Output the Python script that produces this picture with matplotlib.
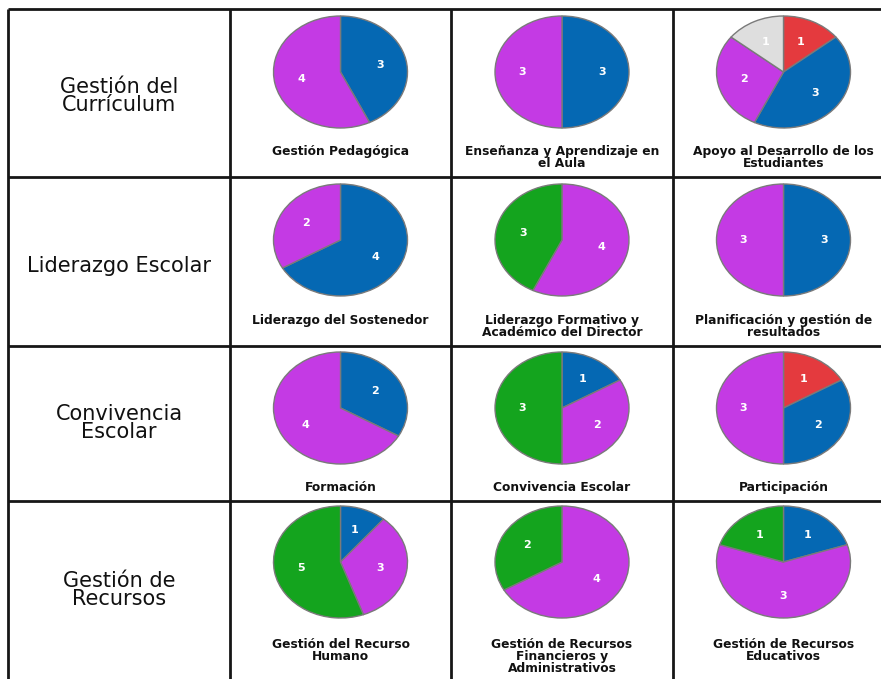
import matplotlib.pyplot as plt

#Data: counts per level (red, blue, magenta, green, grey)#
row_titles = ['Gestión del\nCurrículum', 'Liderazgo Escolar', 'Convivencia\nEscolar', 'Gestión de\nRecursos']
pie_titles = [
    ['Gestión Pedagógica', 'Enseñanza y Aprendizaje en\nel Aula', 'Apoyo al Desarrollo de los\nEstudiantes'],
    ['Liderazgo del Sostenedor', 'Liderazgo Formativo y\nAcadémico del Director', 'Planificación y gestión de\nresultados'],
    ['Formación', 'Convivencia Escolar', 'Participación'],
    ['Gestión del Recurso\nHumano', 'Gestión de Recursos\nFinancieros y\nAdministrativos', 'Gestión de Recursos\nEducativos'],
]
red = [[0, 0, 1], [0, 0, 0], [0, 0, 1], [0, 0, 0]]
blue = [[3, 3, 3], [4, 0, 3], [2, 1, 2], [1, 0, 1]]
magenta = [[4, 3, 2], [2, 4, 3], [4, 2, 3], [3, 4, 3]]
green = [[0, 0, 0], [0, 3, 0], [0, 3, 0], [5, 2, 1]]
grey = [[0, 0, 1], [0, 0, 0], [0, 0, 0], [0, 0, 0]]
colors = ['#e43a3e', '#0568b3', '#c43ae4', '#14a41e', '#dedede']

W, H = 881, 679
fig = plt.figure(figsize=(W / 100, H / 100), dpi=100)
plt.rcParams['font.family'] = ['DejaVu Sans']

#Table grid in pixel coords#
ax = fig.add_axes([0, 0, 1, 1])
ax.set_xlim(0, W)
ax.set_ylim(H, 0)
ax.axis('off')
xs = [8, 230, 451, 673, 894]
ys = [9, 177, 346, 501, 700]
for x in xs:
    ax.plot([x, x], [ys[0], ys[-1]], color='#161616', lw=2.0, solid_capstyle='butt')
for y in ys:
    ax.plot([xs[0], xs[-1]], [y, y], color='#161616', lw=2.0, solid_capstyle='butt')

pie_cy = [72, 240, 408, 562]
label_top = [145, 314, 481, 638]
title_y = [96, 266, 423, 590]
rx, ry = 67, 56

for r in range(4):
    ax.text((xs[0] + xs[1]) / 2, title_y[r], row_titles[r], ha='center', va='center',
            fontsize=15, linespacing=0.88, color='#111111')
    for c in range(3):
        cx = (xs[c + 1] + xs[c + 2]) / 2
        vals = [red[r][c], blue[r][c], magenta[r][c], green[r][c], grey[r][c]]
        v = [x for x in vals if x > 0]
        col = [colors[i] for i, x in enumerate(vals) if x > 0]
        pax = fig.add_axes([(cx - rx) / W, 1 - (pie_cy[r] + ry) / H, 2 * rx / W, 2 * ry / H])
        wedges, texts = pax.pie(v, colors=col, labels=[str(x) for x in v], labeldistance=0.6,
                                startangle=90, counterclock=False,
                                wedgeprops=dict(edgecolor='#7a7a7a', linewidth=1.0),
                                textprops=dict(color='white', fontsize=8, fontweight='bold',
                                               ha='center', va='center'))
        for w in wedges:
            w.set_clip_on(False)
        pax.set_aspect('auto')
        pax.set_xlim(-1, 1)
        pax.set_ylim(-1, 1)
        pax.axis('off')
        ax.text(cx, label_top[r], pie_titles[r][c], ha='center', va='top',
                fontsize=8.8, fontweight='bold', linespacing=0.88, color='#111111')

fig.savefig('out.png', dpi=100)
